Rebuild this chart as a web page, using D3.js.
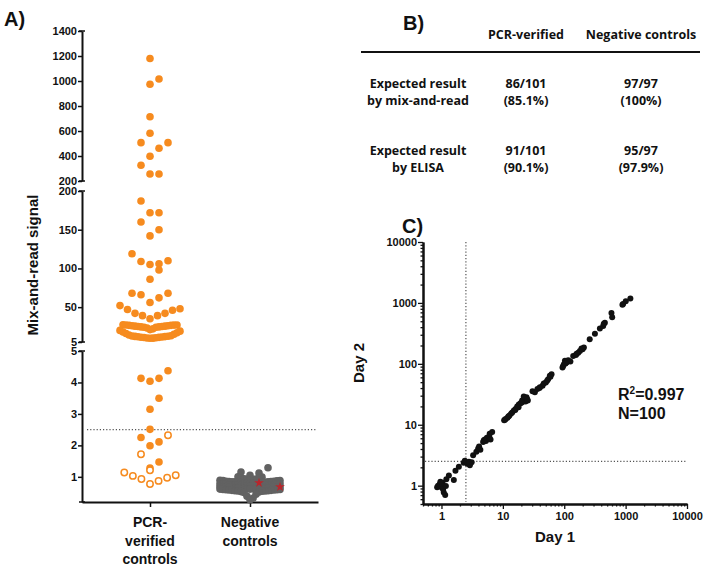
<!DOCTYPE html>
<html>
<head>
<meta charset="utf-8">
<script src="https://cdn.jsdelivr.net/npm/d3@7"></script>
<style>
    body { margin: 0; background: #fff; }
    svg text { font-family: "Liberation Sans", Arial, sans-serif; font-weight: bold; fill: #111; }
    .tbl text { font-family: "Open Sans", sans-serif; font-weight: 700; font-size: 12.5px; }
    .axis path, .axis line { stroke: #111; }
</style>
</head>
<body>
<div id="chart"></div>
<script>
// ---------- Panel A data ----------
const groups = ["PCR-verified controls", "Negative controls"]
// PCR-verified, filled dots (above ~30)
const pcrHigh = [1180, 1016, 974, 714, 582, 507, 507, 462, 398, 326, 256, 256,
    187, 172, 172, 160, 150, 142, 119, 110, 109, 106, 105, 98, 86, 68, 68, 66, 62, 56,
    52, 48, 47, 46, 42, 42, 39, 39, 35]
// dense cluster around 10-28
const pcrCluster = [27.2, 27, 27, 26.8, 26.5, 26.5, 26, 26, 25.5, 25.5, 25, 25, 24.5, 24.5, 24, 24,
    23, 22, 21, 20, 19, 18, 17, 16, 15, 14,
    13, 12.8, 12.5, 12.2, 12, 11.8, 11.5, 11.2, 11, 10.8, 10.5, 10.2, 10, 9.8]
// filled dots below 5
const pcrLow = [4.37, 4.13, 4.13, 4.04, 3.5, 3.15, 2.51, 2.25, 2.11, 1.99, 1.47, 1.28]
// open circles
const pcrOpen = [2.32, 1.72, 1.21, 1.14, 1.05, 1.03, 0.97, 0.93, 0.87, 0.77]
// Negative controls
const negValues = [1.29, 1.15, 1.12, 1.05, 1.0, 0.99, 0.97,
    0.96, 0.94, 0.93, 0.92, 0.91, 0.90,
    0.89, 0.88, 0.88, 0.87, 0.86, 0.86, 0.85, 0.85, 0.84, 0.84, 0.83, 0.83, 0.82, 0.82, 0.81, 0.80, 0.80, 0.84,
    0.79, 0.79, 0.78, 0.78, 0.77, 0.77, 0.76, 0.76, 0.75, 0.75, 0.74, 0.74, 0.73, 0.73, 0.72, 0.72, 0.71, 0.71, 0.70, 0.70, 0.75, 0.72,
    0.69, 0.69, 0.68, 0.68, 0.67, 0.67, 0.66, 0.66, 0.65, 0.65, 0.64, 0.64, 0.63, 0.63, 0.62, 0.62, 0.61, 0.61, 0.60, 0.60, 0.66, 0.64, 0.62, 0.65,
    0.59, 0.59, 0.58, 0.58, 0.57, 0.57, 0.56, 0.56, 0.55, 0.55, 0.54, 0.53, 0.52, 0.50,
    0.45, 0.38, 0.32, 0.27]
const negStars = [0.81, 0.68]
const cutoff = 2.5

// ---------- Panel B data ----------
const tableHeader = ["PCR-verified", "Negative controls"]
const tableRows = [["Expected result", "by mix-and-read"], ["Expected result", "by ELISA"]]
const tablePcr = [["86/101", "(85.1%)"], ["91/101", "(90.1%)"]]
const tableNeg = [["97/97", "(100%)"], ["95/97", "(97.9%)"]]

// ---------- Panel C data ----------
const day1 = [0.88, 0.94, 1.0, 1.04, 1.09, 1.06, 1.18, 1.2, 1.32, 1.59, 1.69, 1.92, 2.3, 2.65, 2.9, 3.1,
    3.28, 3.7, 3.96, 4.1, 4.77, 5.1, 5.3, 5.5, 5.7, 6.0, 6.3, 6.7,
    10.5, 11.1, 11.9, 12.7, 13.5, 14.2, 15.1, 16.1, 17.1, 18.2, 19.4, 20.6, 21.9, 23.4, 24.3, 21.9, 25.5,
    30.4, 33.2, 36.6, 40.2, 44.3, 46.4, 50.1, 54.7, 58.3, 62.1,
    93.7, 98.9, 102.6, 109, 116, 126, 140, 155, 169, 180, 191, 209,
    260, 316, 381, 431, 459, 588, 604, 909, 1005, 1196,
    0.96, 1.15, 0.85, 2.4, 2.8, 4.3, 4.9, 6.1, 10.8, 12.3, 15.9, 18.0, 20.4, 24.9,
    39.5, 52.6, 59.6, 96.0, 105, 159, 199, 441, 887]
const day2 = [1.0, 1.06, 0.94, 1.12, 0.77, 0.87, 0.99, 1.27, 1.47, 1.24, 1.76, 2.04, 2.37, 2.3, 2.17, 2.43,
    3.16, 3.6, 4.06, 4.4, 5.2, 5.7, 5.4, 6.1, 5.9, 6.4, 5.7, 7.6,
    11.8, 12.4, 13.0, 14.1, 15.1, 15.9, 17.1, 18.2, 19.9, 21.4, 22.6, 24.9, 26.5, 24.0, 28.2, 29.0, 24.9,
    35.5, 34.1, 38.6, 41.1, 43.7, 47.6, 49.5, 56.0, 63.6, 67.7,
    87.0, 98.8, 112, 105, 114, 109, 134, 139, 152, 162, 178, 185,
    253, 313, 381, 417, 471, 685, 584, 960, 1067, 1183,
    1.16, 0.70, 0.94, 2.56, 2.46, 3.9, 5.55, 7.1, 12.1, 13.6, 17.5, 19.4, 23.2, 26.2,
    40.1, 52.7, 61.3, 92.5, 101, 147, 173, 453, 935]
const logTicks = [1, 10, 100, 1000, 10000]

const orange = "#f68b1f"
const grey = "#626262"

const svg = d3.select("#chart").append("svg")
    .attr("width", 708)
    .attr("height", 569)

////////// PANEL A //////////
svg.append("text").attr("x", 4).attr("y", 26).style("font-size", "20px").text("A)")

// three stacked segments of a broken y axis
const segs = [
    { s: d3.scaleLinear().domain([200, 1400]).range([181, 31]), ticks: [200, 400, 600, 800, 1000, 1200, 1400] },
    { s: d3.scaleLinear().domain([5, 200]).range([342, 191]), ticks: [5, 50, 100, 150, 200] },
    { s: d3.scaleLinear().domain([0.2, 5]).range([502, 351]), ticks: [1, 2, 3, 4, 5] }
]
function yA(v) {
    if (v > 200) return segs[0].s(v)
    if (v >= 5) return segs[1].s(v)
    return segs[2].s(v)
}
const axX = 82
segs.forEach(sg => {
    const g = svg.append("g").attr("class", "axis")
        .attr("transform", `translate(${axX},0)`)
        .call(d3.axisLeft(sg.s).tickValues(sg.ticks).tickSize(4).tickSizeOuter(0).tickPadding(1).tickFormat(d3.format("d")))
    g.select(".domain").attr("stroke-width", 2)
    g.selectAll(".tick line").attr("stroke-width", 1.5)
    g.selectAll("text").style("font-size", "11px").style("font-weight", "bold").attr("fill", "#111")
    // caps at the break ends
    sg.s.range().forEach(r => {
        g.append("line").attr("x1", -3).attr("x2", 3).attr("y1", r).attr("y2", r)
            .attr("stroke", "#111").attr("stroke-width", 1.5)
    })
})

const xA = d3.scalePoint().domain(groups).range([axX, 318]).padding(0.68)
const xAxisA = svg.append("g").attr("class", "axis")
    .attr("transform", "translate(0,502)")
    .call(d3.axisBottom(xA).tickSize(5).tickSizeOuter(0).tickFormat(""))
xAxisA.select(".domain").attr("stroke-width", 2)
xAxisA.selectAll(".tick line").attr("stroke-width", 1.5)

const xLabels = [["PCR-", "verified", "controls"], ["Negative", "controls"]]
groups.forEach((gname, i) => {
    const t = svg.append("text").attr("text-anchor", "middle").style("font-size", "14px")
    xLabels[i].forEach((ln, j) => {
        t.append("tspan").attr("x", xA(gname)).attr("y", 527 + j * 18.5).text(ln)
    })
})

svg.append("text")
    .attr("transform", "translate(32,265) rotate(-90)")
    .attr("text-anchor", "middle")
    .attr("dominant-baseline", "central")
    .style("font-size", "15px")
    .text("Mix-and-read signal")

// cutoff line
svg.append("line")
    .attr("x1", axX + 5).attr("x2", 316)
    .attr("y1", yA(cutoff)).attr("y2", yA(cutoff))
    .attr("stroke", "#555").attr("stroke-width", 1.2).attr("stroke-dasharray", "1.2,2")

// scatter-dot layout: points binned in rows (from the bottom up),
// each row spread from the centre outwards, lowest value in the middle;
// crowded rows wrap round into extra passes
function rowSwarm(items, cx, binH, maxW, sMax, sMin) {
    items.forEach(d => { d.y = yA(d.v) })
    const sorted = items.slice().sort((a, b) => b.y - a.y)
    let i = 0
    while (i < sorted.length) {
        const y0 = sorted[i].y
        const bin = []
        while (i < sorted.length && y0 - sorted[i].y <= binH) bin.push(sorted[i++])
        const n = bin.length
        const s = n > 1 ? Math.max(sMin, Math.min(sMax, maxW / (n - 1))) : 0
        const K = s ? Math.floor(maxW / 2 / s + 0.01) : 0
        bin.forEach((d, j) => {
            const jj = j % (2 * K + 1)
            const k = jj === 0 ? 0 : (jj % 2 ? (jj + 1) / 2 : -jj / 2)
            d.x = cx + k * s
        })
    }
    return items
}

const pcrItems = rowSwarm(
    pcrHigh.concat(pcrCluster, pcrLow).map(v => ({ v, open: false }))
        .concat(pcrOpen.map(v => ({ v, open: true }))),
    xA(groups[0]), 14, 60, 9, 3)
const negItems = rowSwarm(
    negValues.map(v => ({ v, star: false })).concat(negStars.map(v => ({ v, star: true }))),
    xA(groups[1]), 24, 64, 9, 3)

svg.append("g").selectAll("circle")
    .data(pcrItems)
    .join("circle")
    .attr("cx", d => d.x).attr("cy", d => d.y)
    .attr("r", d => d.open ? 3.2 : 3.8)
    .attr("fill", d => d.open ? "#fff" : orange)
    .attr("stroke", orange)
    .attr("stroke-width", d => d.open ? 1.5 : 0)

svg.append("g").selectAll("circle")
    .data(negItems)
    .join("circle")
    .attr("cx", d => d.x).attr("cy", d => d.y)
    .attr("r", 3.8)
    .attr("fill", grey)

svg.append("g").selectAll("path")
    .data(negItems.filter(d => d.star))
    .join("path")
    .attr("transform", d => `translate(${d.x},${d.y})`)
    .attr("d", d3.symbol(d3.symbolStar).size(30))
    .attr("fill", "#b8262c")

////////// PANEL B //////////
svg.append("text").attr("x", 403).attr("y", 30).style("font-size", "20px").text("B)")
const tbl = svg.append("g").attr("class", "tbl")
const colX = [418, 526, 641]
tableHeader.forEach((h, i) => {
    tbl.append("text").attr("x", colX[i + 1]).attr("y", 39).attr("text-anchor", "middle").text(h)
})
tbl.append("line").attr("x1", 361).attr("x2", 700).attr("y1", 52).attr("y2", 52)
    .attr("stroke", "#111").attr("stroke-width", 2)
const rowY = [88, 155]
tableRows.forEach((r, i) => {
    const cells = [r, tablePcr[i], tableNeg[i]]
    cells.forEach((c, k) => {
        c.forEach((ln, j) => {
            tbl.append("text").attr("x", colX[k]).attr("y", rowY[i] + j * 17)
                .attr("text-anchor", "middle").text(ln)
        })
    })
})

////////// PANEL C //////////
svg.append("text").attr("x", 402).attr("y", 233).style("font-size", "20px").text("C)")

const xC = d3.scaleLog().domain([0.5, 10000]).range([423, 687])
const yC = d3.scaleLog().domain([0.5, 10000]).range([504, 242])
const minor = []
for (let e = -1; e < 4; e++) for (let m = 1; m < 10; m++) {
    const v = m * Math.pow(10, e)
    if (v >= 0.5 && v <= 10000 && m !== 1) minor.push(v)
}

const gxm = svg.append("g").attr("class", "axis").attr("transform", "translate(0,504)")
    .call(d3.axisBottom(xC).tickValues(minor).tickSize(2.5).tickSizeOuter(0).tickFormat(""))
const gx = svg.append("g").attr("class", "axis").attr("transform", "translate(0,504)")
    .call(d3.axisBottom(xC).tickValues(logTicks).tickSize(5).tickSizeOuter(0).tickFormat(d3.format("d")))
const gym = svg.append("g").attr("class", "axis").attr("transform", "translate(423,0)")
    .call(d3.axisLeft(yC).tickValues(minor).tickSize(2.5).tickSizeOuter(0).tickFormat(""))
const gy = svg.append("g").attr("class", "axis").attr("transform", "translate(423,0)")
    .call(d3.axisLeft(yC).tickValues(logTicks).tickSize(5).tickSizeOuter(0).tickPadding(1).tickFormat(d3.format("d")))
;[gx, gy, gxm, gym].forEach(g => {
    g.select(".domain").attr("stroke-width", 2)
    g.selectAll(".tick line").attr("stroke-width", 1.3)
    g.selectAll("text").style("font-size", "11px").style("font-weight", "bold").attr("fill", "#111")
})

svg.append("text").attr("x", 555).attr("y", 542).attr("text-anchor", "middle")
    .style("font-size", "15px").text("Day 1")
svg.append("text")
    .attr("transform", "translate(358,363) rotate(-90)")
    .attr("text-anchor", "middle").attr("dominant-baseline", "central")
    .style("font-size", "15px").text("Day 2")

// cutoff lines
svg.append("line")
    .attr("x1", xC(cutoff)).attr("x2", xC(cutoff))
    .attr("y1", yC(10000)).attr("y2", yC(0.5) - 2)
    .attr("stroke", "#555").attr("stroke-width", 1.2).attr("stroke-dasharray", "1.2,2")
svg.append("line")
    .attr("x1", xC(0.5) + 2).attr("x2", xC(10000))
    .attr("y1", yC(cutoff)).attr("y2", yC(cutoff))
    .attr("stroke", "#555").attr("stroke-width", 1.2).attr("stroke-dasharray", "1.2,2")

svg.append("g").selectAll("circle")
    .data(day1.map((d, i) => [d, day2[i]]))
    .join("circle")
    .attr("cx", d => xC(d[0])).attr("cy", d => yC(d[1]))
    .attr("r", 3)
    .attr("fill", "#111")

const stat = svg.append("text").attr("x", 618).attr("y", 400).style("font-size", "16px")
stat.append("tspan").text("R")
stat.append("tspan").attr("dy", -6).style("font-size", "10px").text("2")
stat.append("tspan").attr("dy", 6).text("=0.997")
svg.append("text").attr("x", 618).attr("y", 419).style("font-size", "16px").text("N=100")
</script>
</body>
</html>
